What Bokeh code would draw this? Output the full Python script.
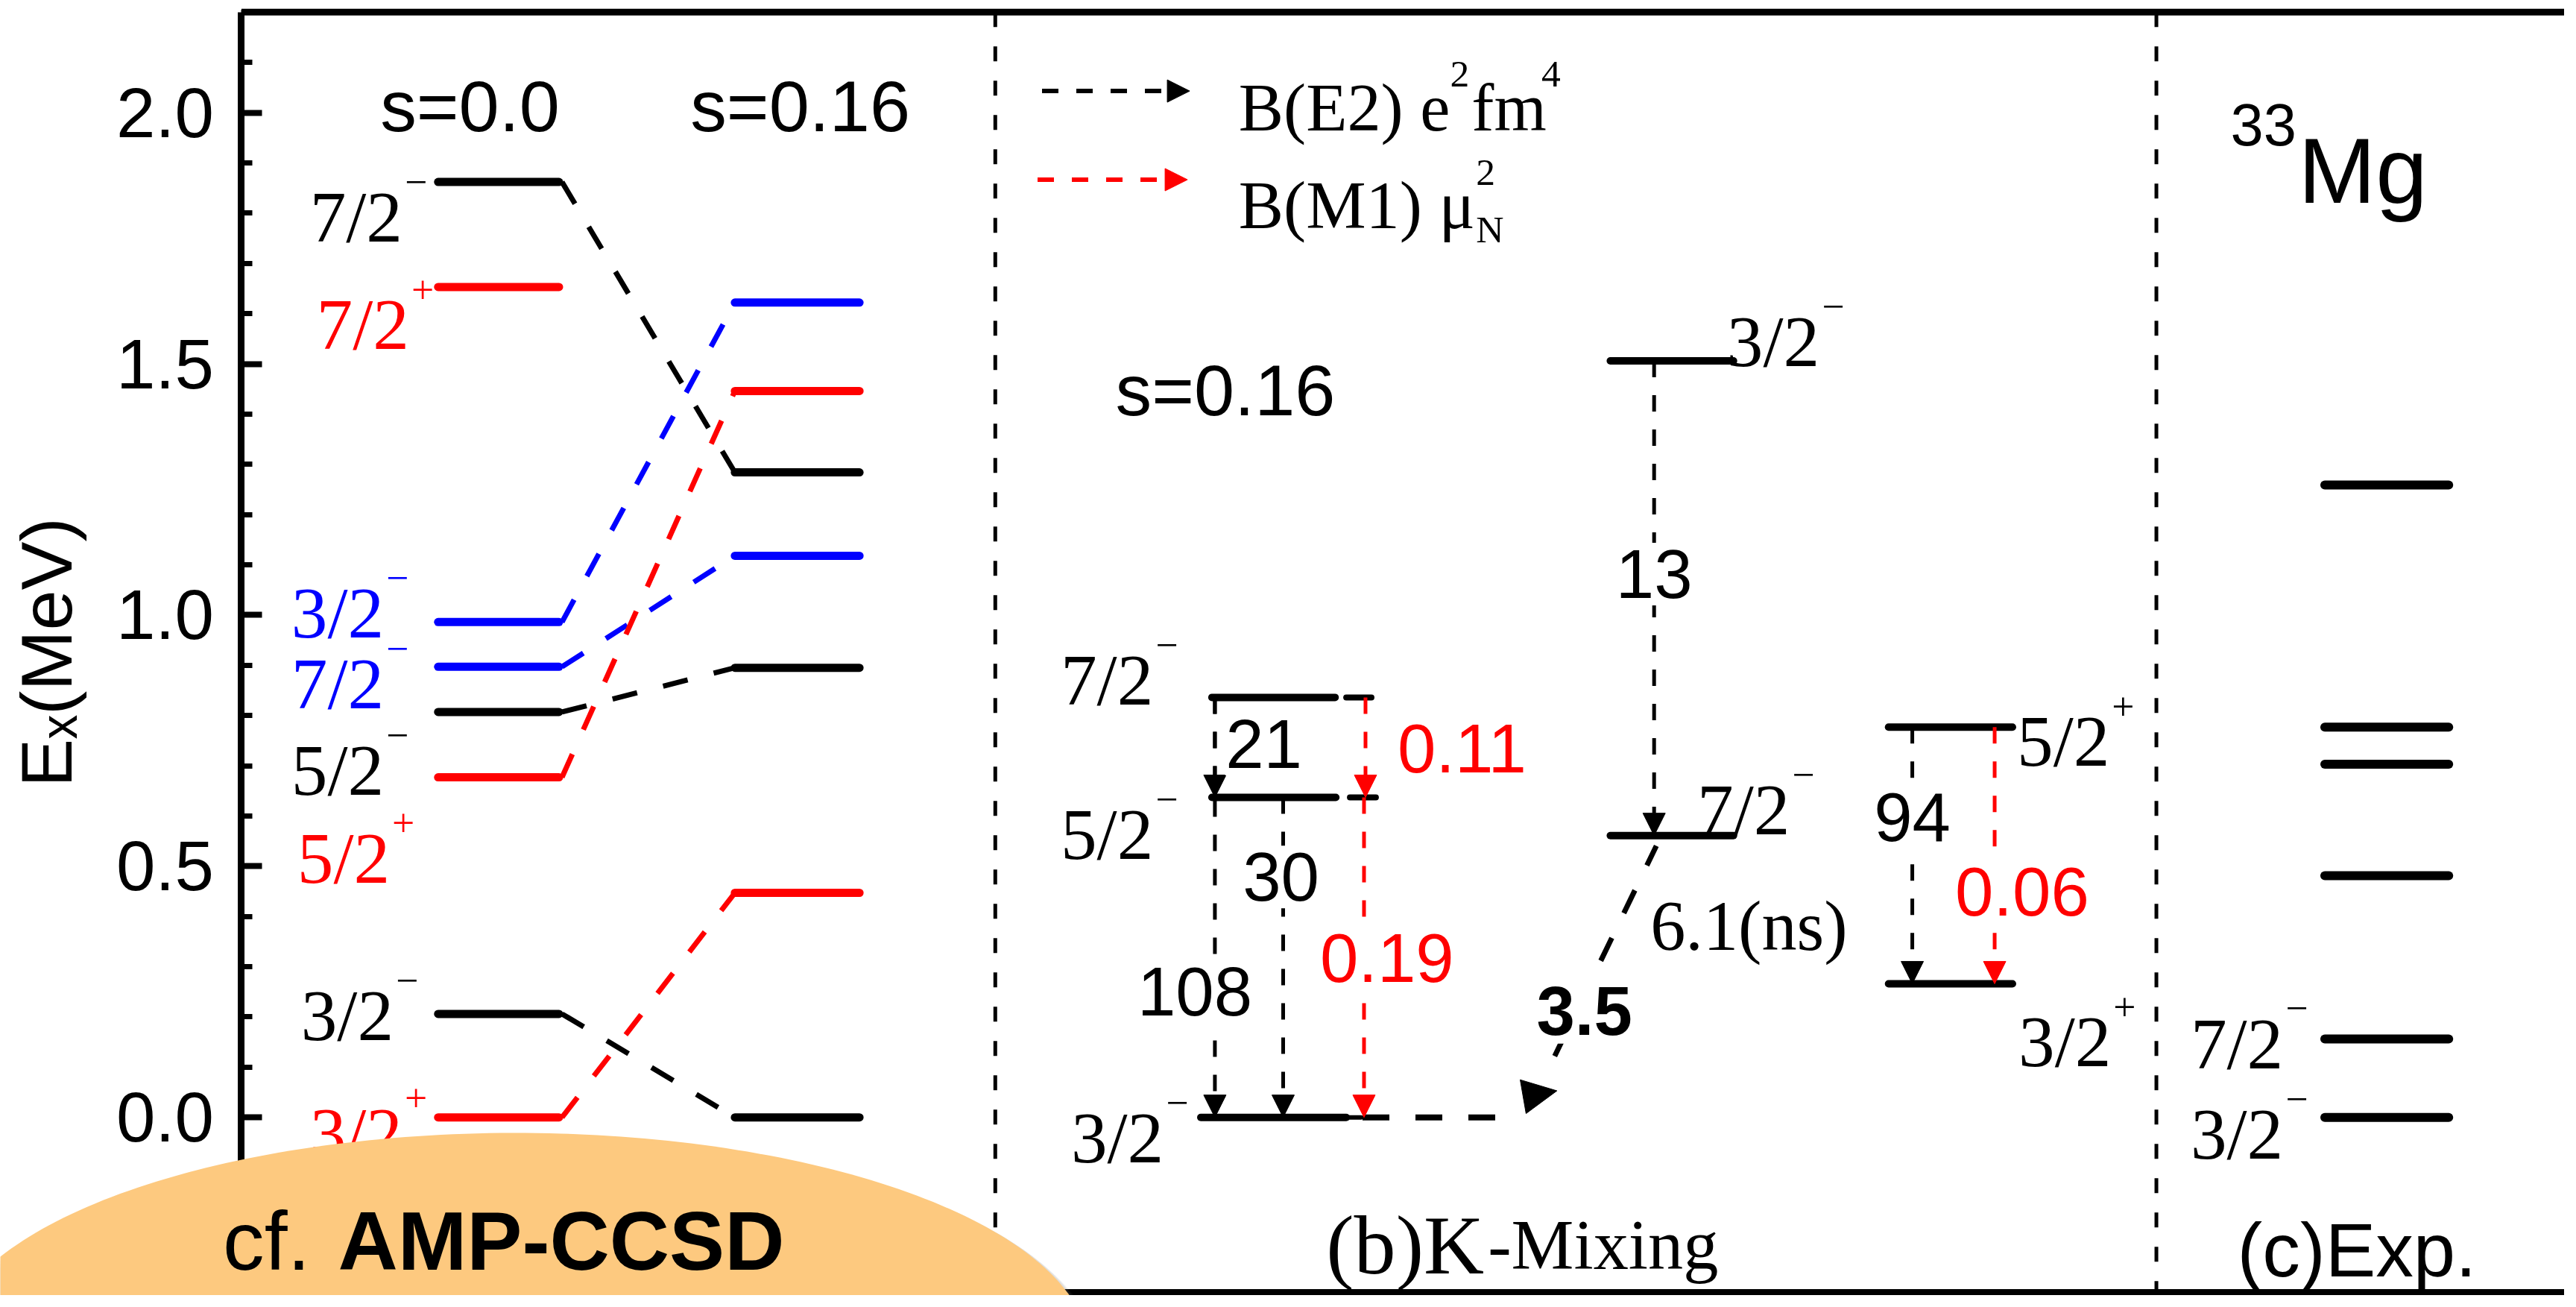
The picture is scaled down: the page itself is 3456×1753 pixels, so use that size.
import numpy as np
from bokeh.plotting import figure
from bokeh.models import (Range1d, Arrow, NormalHead, LabelSet,
                          ColumnDataSource, SingleIntervalTicker,
                          NumeralTickFormatter, PolyAnnotation)
from bokeh.core.properties import value
from bokeh.embed import file_html
from bokeh.resources import INLINE

# ---------------- values ----------------
# (a) level energies (MeV) at s=0.0 and s=0.16 (None: not shown)
a_spin   = ["7/2", "7/2", "3/2", "7/2", "5/2", "5/2", "3/2", "3/2"]
a_parity = ["−", "+", "−", "−", "−", "+", "−", "+"]
a_color  = ["black", "red", "blue", "blue", "black", "red", "black", "red"]
a_E_s00  = [1.862, 1.653, 0.986, 0.897, 0.807, 0.677, 0.206, 0.000]
a_E_s016 = [1.284, None, 1.622, 1.118, 0.895, 1.446, 0.000, 0.447]
a_headers = ["s=0.0", "s=0.16"]

# (b) K-mixing levels (MeV), s=0.16
b_spin   = ["7/2", "5/2", "3/2", "3/2", "7/2", "5/2", "3/2"]
b_parity = ["−", "−", "−", "−", "−", "+", "+"]
b_E      = [0.836, 0.637, 0.000, 1.506, 0.561, 0.777, 0.266]
b_header = "s=0.16"
# transitions (indices into the b levels)
e2_from  = [0, 0, 1, 3, 5]
e2_to    = [1, 2, 2, 4, 6]
e2_value = ["21", "108", "30", "13", "94"]
m1_from  = [0, 1, 5]
m1_to    = [1, 2, 6]
m1_value = ["0.11", "0.19", "0.06"]
kink_from, kink_to, kink_value = 4, 2, "3.5"
lifetime_text = "6.1(ns)"

# (c) experiment
c_E      = [0.000, 0.156, 0.481, 0.703, 0.777, 1.259]
c_spin   = ["3/2", "7/2"]
c_parity = ["−", "−"]

# ---------------- layout ----------------
W, H = 3440, 1737
SX, SY = W / 3456, H / 1753
FS = (SX + SY) / 2
Y0, PPM = 1512.0, 680.0      # layout row of 0 MeV and pixels per MeV
SPINE_X, TOP_Y, BOT_Y = 325, 15.8, 1749


def ry(py):
    return (Y0 - py) / PPM


def dpx(px):
    return px / PPM


def fs(px):
    return f"{px * FS:.1f}px"


SERIF = "Liberation Serif"
SANS = "Liberation Sans"

p = figure(width=W, height=H, output_backend="svg", toolbar_location=None,
           x_range=Range1d(0, 3456), y_range=Range1d(ry(1753), ry(0)),
           x_axis_location=None, y_axis_location="left", min_border=0)
p.outline_line_color = None
p.grid.visible = False
p.background_fill_color = "white"
p.border_fill_color = "white"

yax = p.yaxis[0]
yax.fixed_location = SPINE_X
yax.bounds = (ry(BOT_Y), ry(TOP_Y))
yax.ticker = SingleIntervalTicker(interval=0.5, num_minor_ticks=5)
yax.formatter = NumeralTickFormatter(format="0.0")
yax.axis_line_width = 9
yax.axis_line_color = "black"
yax.major_tick_in = 28
yax.major_tick_out = 0
yax.major_tick_line_width = 8
yax.major_tick_line_color = "black"
yax.minor_tick_in = 15
yax.minor_tick_out = 0
yax.minor_tick_line_width = 7
yax.minor_tick_line_color = "black"
yax.major_label_text_font = SANS
yax.major_label_text_font_size = fs(95)
yax.major_label_text_color = "black"
yax.major_label_standoff = 37
yax.axis_label = "Eₓ(MeV)"
yax.axis_label_text_font = SANS
yax.axis_label_text_font_size = fs(98)
yax.axis_label_text_font_style = "normal"
yax.axis_label_text_color = "black"
yax.axis_label_standoff = 35


def put(x, y, text, font=SANS, size=98, align="left", color="black", style="normal"):
    p.text(x=[x], y=[y], text=[text], text_font=value(font), text_font_size=value(fs(size)),
           text_align=align, text_baseline="alphabetic", text_color=color,
           text_font_style=style)


def boxed(xs, baselines, texts, color="black", style="normal", size=93, pad=20, font=SANS,
          align="center", fill="white"):
    src = ColumnDataSource(dict(x=xs, y=[ry(v) for v in baselines], t=texts))
    kw = {}
    if fill is not None:
        kw = dict(background_fill_color=fill, border_line_color=fill, border_line_width=pad)
    p.add_layout(LabelSet(source=src, x="x", y="y", text="t", text_align=align,
                          text_baseline="alphabetic", text_font=value(font),
                          text_font_size=value(fs(size)), text_font_style=value(style),
                          text_color=value(color), **kw))


# frame lines and panel dividers
p.segment(x0=[SPINE_X] * 2, y0=[ry(TOP_Y), ry(BOT_Y)], x1=[3456] * 2, y1=[ry(TOP_Y), ry(BOT_Y)],
          line_color="black", line_width=9)
p.segment(x0=[1341, 2906], y0=[ry(TOP_Y)] * 2, x1=[1341, 2906], y1=[ry(BOT_Y)] * 2,
          line_color="black", line_width=5, line_dash="20 26")

# ---------------- panel (a) ----------------
AL0, AL1, AR0, AR1 = 590, 753, 990, 1158
p.segment(x0=[AL0] * len(a_E_s00), y0=a_E_s00, x1=[AL1] * len(a_E_s00), y1=a_E_s00,
          line_color=a_color, line_width=11, line_cap="round")
idx = [i for i, e in enumerate(a_E_s016) if e is not None]
p.segment(x0=[AR0] * len(idx), y0=[a_E_s016[i] for i in idx],
          x1=[AR1] * len(idx), y1=[a_E_s016[i] for i in idx],
          line_color=[a_color[i] for i in idx], line_width=11, line_cap="round")
p.segment(x0=[AL1 + 4] * len(idx), y0=[a_E_s00[i] for i in idx],
          x1=[AR0] * len(idx), y1=[a_E_s016[i] for i in idx],
          line_color=[a_color[i] for i in idx], line_width=7, line_dash="34 36")

a_lab_xr = [542, 551, 517, 517, 517, 525, 530, 542]
a_lab_off = [47, 51, -12, 23, 79, 109, 2, 21]
base_y = [e - dpx(o) for e, o in zip(a_E_s00, a_lab_off)]
p.text(x=a_lab_xr, y=base_y, text=a_spin, text_font=value(SERIF), text_font_size=value(fs(98)),
       text_align="right", text_baseline="alphabetic", text_color=a_color)
p.text(x=[x + 3 for x in a_lab_xr], y=[y + dpx(47) for y in base_y], text=a_parity,
       text_font=value(SERIF), text_font_size=value(fs(54)),
       text_align="left", text_baseline="alphabetic", text_color=a_color)

put(512, ry(143.5), a_headers[0])
put(930, ry(143.5), a_headers[1])

# ---------------- panel (b) ----------------
put(1503, ry(528), b_header)

# legend
for (xs, xe, yy, col) in [(1404, 1603, 122.7, "black"), (1398, 1600, 242.7, "red")]:
    p.add_layout(Arrow(x_start=xs, y_start=ry(yy), x_end=xe, y_end=ry(yy),
                       line_color=col, line_width=6, line_dash="22 24",
                       end=NormalHead(size=30, fill_color=col, line_color=col, line_width=1)))
put(1669, ry(145), "B(E2) e", SERIF, 91)
put(1954, ry(100), "2", SERIF, 52)
put(1983, ry(145), "fm", SERIF, 91)
put(2077, ry(100), "4", SERIF, 52)
put(1669, ry(278), "B(M1) μ", SERIF, 91)
put(1989, ry(233), "2", SERIF, 52)
put(1989, ry(310), "N", SERIF, 52)

b_x0 = [1633, 1633, 1618, 2170, 2170, 2545, 2545]
b_x1 = [1799, 1800, 1814, 2336, 2336, 2712, 2712]
p.segment(x0=b_x0, y0=b_E, x1=b_x1, y1=b_E, line_color="black", line_width=10, line_cap="round")
stub_lvl = [0, 1, 2]
stub_x0 = [1814, 1819, 1814]
stub_x1 = [1848, 1854, 1834]
p.segment(x0=stub_x0, y0=[b_E[i] for i in stub_lvl], x1=stub_x1, y1=[b_E[i] for i in stub_lvl],
          line_color="black", line_width=[8, 8, 6], line_cap="round")

b_lab_xr = [1554, 1554, 1568, 2452, 2412, 2843, 2845]
b_lab_off = [-24, 50, 28, -26, -35, 19, 78]
bb_y = [e - dpx(o) for e, o in zip(b_E, b_lab_off)]
p.text(x=b_lab_xr, y=bb_y, text=b_spin, text_font=value(SERIF), text_font_size=value(fs(98)),
       text_align="right", text_baseline="alphabetic", text_color="black")
p.text(x=[x + 3 for x in b_lab_xr], y=[y + dpx(47) for y in bb_y], text=b_parity,
       text_font=value(SERIF), text_font_size=value(fs(54)),
       text_align="left", text_baseline="alphabetic", text_color="black")

# transition arrows
e2_x = [1637, 1637, 1729, 2229, 2577]
m1_x = [1840, 1838, 2688]
for xs_, fr, to, col in [(e2_x, e2_from, e2_to, "black"), (m1_x, m1_from, m1_to, "red")]:
    src = ColumnDataSource(dict(x=xs_, y0=[b_E[i] for i in fr], y1=[b_E[i] for i in to]))
    p.add_layout(Arrow(source=src, x_start="x", y_start="y0", x_end="x", y_end="y1",
                       line_color=col, line_width=5, line_dash="22 24",
                       end=NormalHead(size=30, fill_color=col, line_color=col, line_width=1)))

# the 7/2- -> 3/2- E2 path
g = b_E[kink_to]
p.segment(x0=[1836], y0=[g], x1=[2050], y1=[g], line_color="black", line_width=8, line_dash="36 35")
p.segment(x0=[2095], y0=[g + dpx(83)], x1=[2232], y1=[b_E[kink_from] - dpx(14)],
          line_color="black", line_width=7, line_dash="34 37")
p.add_layout(Arrow(x_start=2055, y_start=g + dpx(28.5), x_end=2098, y_end=g + dpx(36),
                   line_alpha=0, end=NormalHead(size=46, fill_color="black", line_color="black",
                                                line_width=1)))
put(2224, ry(1253), lifetime_text, SERIF, 95)

# transition values, with white boxes that break the dashed lines
boxed([1703, 1610, 1726, 2229, 2577], [1039, 1374, 1219, 809, 1138], e2_value)
boxed([1970, 1869, 2725], [1045, 1329, 1239], m1_value, color="red")
boxed([2135], [1400], [kink_value], style="bold", pad=24)

put(1787, ry(1685), "(b)K", SERIF, 113)
put(2005, ry(1685), "-Mixing", SERIF, 95)

# ---------------- panel (c) ----------------
p.segment(x0=[3133] * len(c_E), y0=c_E, x1=[3300] * len(c_E), y1=c_E,
          line_color="black", line_width=12, line_cap="round")
c_off = [23, 6]
cb_y = [c_E[i] - dpx(c_off[i]) for i in range(len(c_spin))]
p.text(x=[3077] * len(c_spin), y=cb_y, text=c_spin, text_font=value(SERIF),
       text_font_size=value(fs(98)), text_align="right", text_baseline="alphabetic")
p.text(x=[3080] * len(c_spin), y=[y + dpx(47) for y in cb_y], text=c_parity,
       text_font=value(SERIF), text_font_size=value(fs(54)), text_align="left",
       text_baseline="alphabetic")
put(3006, ry(169), "33", SANS, 80)
put(3097, ry(231), "Mg", SANS, 126)
put(3015, ry(1691), "(c)Exp.", SANS, 102)

# ---------------- overlay note ----------------
t = np.linspace(0, 2 * np.pi, 300)
EX, EY, EA, EB = 695, 1831, 773, 298
for dx, dy, alpha in [(10, 6, 0.06), (7, 4, 0.08), (4, 2, 0.10)]:
    p.add_layout(PolyAnnotation(xs=list(EX + dx + EA * np.cos(t)),
                                ys=list(ry(EY + dy - EB * np.sin(t))),
                                fill_color="#707070", fill_alpha=alpha, line_color=None))
p.add_layout(PolyAnnotation(xs=list(EX + EA * np.cos(t)), ys=list(ry(EY - EB * np.sin(t))),
                            fill_color="#FDC97F", fill_alpha=1.0, line_color=None))
boxed([300], [1718], ["cf."], size=112, align="left", fill=None)
boxed([455], [1718], ["AMP-CCSD"], size=112, align="left", style="bold", fill=None)

open("out.html", "w").write(file_html(p, INLINE))
